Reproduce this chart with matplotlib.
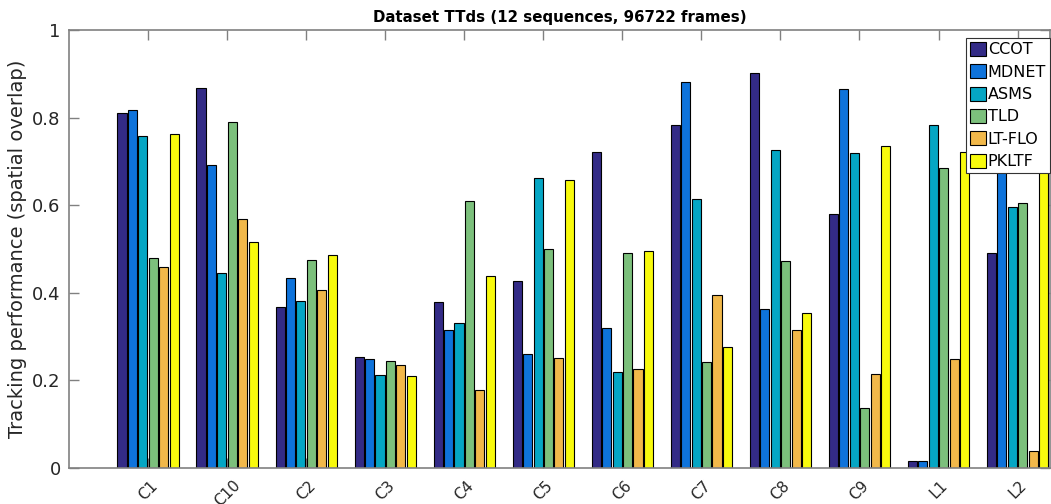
import matplotlib
matplotlib.use("Agg")
import matplotlib.pyplot as plt
import numpy as np

categories = ["C1", "C10", "C2", "C3", "C4", "C5", "C6", "C7", "C8", "C9", "L1", "L2"]
series_names = ["CCOT", "MDNET", "ASMS", "TLD", "LT-FLO", "PKLTF"]
ccot  = [0.811, 0.867, 0.367, 0.254, 0.378, 0.428, 0.722, 0.782, 0.902, 0.579, 0.017, 0.492]
mdnet = [0.817, 0.692, 0.433, 0.248, 0.315, 0.261, 0.320, 0.881, 0.363, 0.866, 0.015, 0.750]
asms  = [0.757, 0.445, 0.382, 0.212, 0.330, 0.662, 0.220, 0.614, 0.727, 0.720, 0.782, 0.597]
tld   = [0.479, 0.789, 0.476, 0.244, 0.610, 0.499, 0.490, 0.243, 0.473, 0.137, 0.684, 0.606]
ltflo = [0.460, 0.568, 0.406, 0.235, 0.177, 0.252, 0.225, 0.395, 0.316, 0.215, 0.249, 0.039]
pkltf = [0.762, 0.515, 0.486, 0.209, 0.439, 0.657, 0.495, 0.276, 0.353, 0.736, 0.722, 0.700]
colors = ["#332b86", "#0e73db", "#05a6c4", "#7cc07c", "#f1b84a", "#f8fa0d"]
yticks = [0, 0.2, 0.4, 0.6, 0.8, 1]
yticklabels = ["0", "0.2", "0.4", "0.6", "0.8", "1"]

series = [ccot, mdnet, asms, tld, ltflo, pkltf]

plt.rcParams['font.family'] = ['DejaVu Sans']
W, H = 1051, 504
fig = plt.figure(figsize=(W / 100, H / 100), dpi=100)
ax = fig.add_axes([69 / W, (504 - 468) / H, (1050 - 69) / W, (468 - 30) / H])

x = np.arange(1, len(categories) + 1)
step = 0.132
width = 0.115
for i, (name, vals, c) in enumerate(zip(series_names, series, colors)):
    ax.bar(x + (i - 2.5) * step, vals, width=width, color=c, edgecolor="black",
           linewidth=0.8, label=name, zorder=2)

ax.set_xlim(0, 12.41)
ax.set_ylim(0, 1)
ax.set_xticks(x)
ax.set_xticklabels(categories, rotation=45, ha="center", va="top",
                   fontsize=11, color="#262626")
ax.set_yticks(yticks)
ax.set_yticklabels(yticklabels, fontsize=13, color="#262626")
ax.tick_params(direction="in", length=7, width=1, color="#808080",
               top=True, right=True, pad=6)
ax.tick_params(axis="x", pad=7)
for s in ax.spines.values():
    s.set_color("#808080")
    s.set_linewidth(1.2)
ax.set_ylabel("Tracking performance (spatial overlap)", fontsize=14, color="#262626")
ax.set_title("Dataset TTds (12 sequences, 96722 frames)", fontsize=10.8,
             fontweight="bold", pad=6)

leg = ax.legend(loc="upper right", bbox_to_anchor=(1.0, 0.982), fontsize=11.5,
                frameon=True, fancybox=False, framealpha=1, edgecolor="#333333",
                handlelength=1.0, handleheight=1.0, handletextpad=0.12,
                labelspacing=0.42, borderpad=0.25, borderaxespad=0)
leg.get_frame().set_linewidth(0.8)

fig.savefig("out.png", dpi=100)
